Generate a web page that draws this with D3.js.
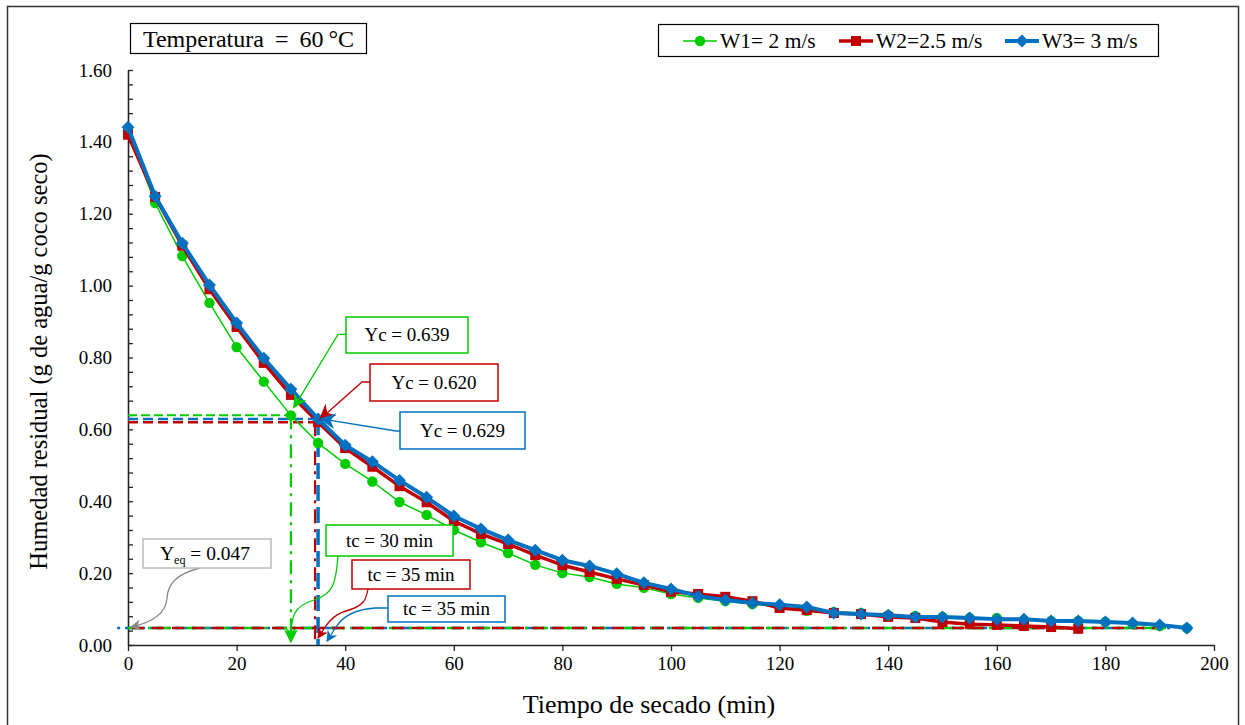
<!DOCTYPE html>
<html><head><meta charset="utf-8">
<script src="https://cdn.jsdelivr.net/npm/d3@7"></script>
<style>
body{margin:0;background:#fff;}
svg text{font-family:"Liberation Serif","DejaVu Serif",serif;fill:#000;}
</style></head>
<body><svg id="c" width="1245" height="725"></svg>
<script>
const time = [0,5,10,15,20,25,30,35,40,45,50,55,60,65,70,75,80,85,90,95,100,105,110,115,120,125,130,135,140,145,150,155,160,165,170,175,180,185,190,195];
const w1 = [1.43,1.23,1.082,0.952,0.829,0.733,0.639,0.562,0.504,0.455,0.398,0.362,0.320,0.286,0.256,0.223,0.200,0.189,0.170,0.159,0.142,0.131,0.122,0.114,0.106,0.095,0.092,0.089,0.083,0.081,0.078,0.075,0.075,0.069,0.067,0.067,0.064,0.058,0.053,0.047];
const w2 = [1.42,1.247,1.111,0.990,0.885,0.785,0.696,0.620,0.548,0.496,0.442,0.397,0.345,0.309,0.281,0.250,0.222,0.203,0.184,0.167,0.148,0.142,0.134,0.122,0.103,0.097,0.089,0.086,0.078,0.075,0.064,0.058,0.056,0.053,0.050,0.045];
const w3 = [1.441,1.249,1.118,1.002,0.896,0.798,0.712,0.629,0.556,0.510,0.458,0.411,0.359,0.323,0.292,0.264,0.236,0.220,0.198,0.173,0.156,0.136,0.125,0.117,0.112,0.106,0.089,0.086,0.083,0.078,0.078,0.075,0.072,0.072,0.067,0.067,0.064,0.061,0.056,0.047];
const seriesNames = ["W1= 2 m/s","W2=2.5 m/s","W3= 3 m/s"];
const seriesColors = ["#00cc00","#c00000","#0070c0"];
const xTicks = [0,20,40,60,80,100,120,140,160,180,200];
const yTicks = [0,0.2,0.4,0.6,0.8,1.0,1.2,1.4,1.6];
const yMinorTicks = [0.04,0.08,0.12,0.16,0.24,0.28,0.32,0.36,0.44,0.48,0.52,0.56,0.64,0.68,0.72,0.76,0.84,0.88,0.92,0.96,1.04,1.08,1.12,1.16,1.24,1.28,1.32,1.36,1.44,1.48,1.52,1.56];
const tc = [30,35,35];
const Yc = [0.639,0.620,0.629];
const Yeq = 0.047;
const titleParts = ["Temperatura = 60","°C"];
const xLabel = "Tiempo de secado (min)";
const yLabel = "Humedad residual (g de agua/g coco seco)";

const svg = d3.select("#c");
const x = d3.scaleLinear().domain([0,200]).range([128,1214]);
const y = d3.scaleLinear().domain([0,1.6]).range([645,70]);

// outer border
svg.append("rect").attr("x",7.5).attr("y",6.5).attr("width",1231).attr("height",730)
  .attr("fill","none").attr("stroke","#333").attr("stroke-width",1.5);

// arrow markers
const defs = svg.append("defs");
function mk(id,color,w,h){
  defs.append("marker").attr("id",id).attr("viewBox","0 0 10 10").attr("refX",9).attr("refY",5)
    .attr("markerWidth",w).attr("markerHeight",h).attr("orient","auto").attr("markerUnits","userSpaceOnUse")
    .append("path").attr("d","M0,0 L10,5 L0,10 L3,5 Z").attr("fill",color);
}
mk("ag","#00cc00",11,11); mk("ar","#c00000",11,11); mk("ab","#0070c0",11,11); mk("ay","#888",12,11);
mk("ag2","#00cc00",14,14); mk("ar2","#c00000",16,16); mk("ab2","#0070c0",18,16);

// axes
const yAxis = d3.axisLeft(y).tickValues(yTicks).tickFormat(d3.format(".2f")).tickSizeInner(-5).tickSizeOuter(0).tickPadding(16);
const gy = svg.append("g").attr("transform",`translate(${x(0)},0)`).call(yAxis);
const yMinor = d3.axisLeft(y).tickValues(yMinorTicks).tickFormat("").tickSizeInner(-5).tickSizeOuter(0);
const gym = svg.append("g").attr("transform",`translate(${x(0)},0)`).call(yMinor);
gym.select(".domain").remove();
const xAxis = d3.axisBottom(x).tickValues(xTicks).tickSizeInner(6).tickSizeOuter(0).tickPadding(6);
const gx = svg.append("g").attr("transform",`translate(0,${y(0)})`).call(xAxis);
[gy,gym,gx].forEach(g=>{
  g.selectAll(".domain").attr("stroke","#222").attr("stroke-width",1.6);
  g.selectAll(".tick line").attr("stroke","#222").attr("stroke-width",1.3);
  g.selectAll(".tick text").attr("font-family","Liberation Serif").attr("font-size",19).attr("fill","#000");
});

// axis labels
svg.append("text").attr("x",649).attr("y",713).attr("text-anchor","middle").attr("font-size",26).text(xLabel);
svg.append("text").attr("transform",`translate(47,${(y(0)+y(1.6))/2+4}) rotate(-90)`).attr("text-anchor","middle").attr("font-size",24.5).text(yLabel);

// reference lines (Yc horizontals, tc verticals, Yeq)
const refG = svg.append("g");
refG.append("line").attr("x1",x(0)).attr("x2",x(tc[0])+6).attr("y1",y(Yc[0])).attr("y2",y(Yc[0]))
  .attr("stroke",seriesColors[0]).attr("stroke-width",2).attr("stroke-dasharray","9,4");
refG.append("line").attr("x1",x(0)).attr("x2",x(tc[2])).attr("y1",y(Yc[2])).attr("y2",y(Yc[2]))
  .attr("stroke",seriesColors[2]).attr("stroke-width",2.5).attr("stroke-dasharray","10,5");
refG.append("line").attr("x1",x(0)).attr("x2",x(tc[1])).attr("y1",y(Yc[1])).attr("y2",y(Yc[1]))
  .attr("stroke",seriesColors[1]).attr("stroke-width",2.5).attr("stroke-dasharray","10,5");
// Yeq horizontals
refG.append("line").attr("x1",x(-2)).attr("x2",x(192)).attr("y1",y(Yeq)).attr("y2",y(Yeq))
  .attr("stroke",seriesColors[2]).attr("stroke-width",2.5).attr("stroke-dasharray","3,5,12,5");
refG.append("line").attr("x1",x(0)).attr("x2",x(192)).attr("y1",y(Yeq)).attr("y2",y(Yeq))
  .attr("stroke",seriesColors[0]).attr("stroke-width",2.5).attr("stroke-dasharray","14,6,3,6");
refG.append("line").attr("x1",x(0)+4).attr("x2",x(192)).attr("y1",y(Yeq)).attr("y2",y(Yeq))
  .attr("stroke",seriesColors[1]).attr("stroke-width",2.5).attr("stroke-dasharray","12,8");
// verticals
refG.append("line").attr("x1",x(tc[0])).attr("x2",x(tc[0])).attr("y1",y(Yc[0])).attr("y2",y(0)-3)
  .attr("stroke",seriesColors[0]).attr("stroke-width",2.2).attr("stroke-dasharray","14,6,3,6").attr("marker-end","url(#ag2)");
refG.append("line").attr("x1",x(tc[1])-3).attr("x2",x(tc[1])-3).attr("y1",y(Yc[1])).attr("y2",y(0))
  .attr("stroke",seriesColors[1]).attr("stroke-width",2.2).attr("stroke-dasharray","14,6,3,6");
refG.append("line").attr("x1",x(tc[2])).attr("x2",x(tc[2])).attr("y1",y(Yc[2])).attr("y2",y(0))
  .attr("stroke",seriesColors[2]).attr("stroke-width",3.5).attr("stroke-dasharray","16,6");

// series
const seriesData = [w1,w2,w3];
const widths = [1.5,3.5,4];
seriesData.forEach((vals,i)=>{
  const pts = vals.map((v,j)=>[time[j],v]);
  svg.append("path").datum(pts).attr("fill","none").attr("stroke",seriesColors[i]).attr("stroke-width",widths[i])
    .attr("stroke-linejoin","round").attr("d",d3.line().x(d=>x(d[0])).y(d=>y(d[1])));
  const g = svg.append("g");
  pts.forEach(d=>{
    if(i===0) g.append("circle").attr("cx",x(d[0])).attr("cy",y(d[1])).attr("r",5.2).attr("fill",seriesColors[0]);
    else if(i===1) g.append("rect").attr("x",x(d[0])-5).attr("y",y(d[1])-5).attr("width",10).attr("height",10).attr("fill",seriesColors[1]);
    else g.append("path").attr("transform",`translate(${x(d[0])},${y(d[1])})`).attr("d","M0,-6.5L6.5,0L0,6.5L-6.5,0Z").attr("fill",seriesColors[2]);
  });
});

// callouts
function box(x0,y0,w,h,color,txt){
  svg.append("rect").attr("x",x0).attr("y",y0).attr("width",w).attr("height",h).attr("fill","#fff").attr("stroke",color).attr("stroke-width",1.5);
  svg.append("text").attr("x",x0+w/2).attr("y",y0+h/2+6).attr("text-anchor","middle").attr("font-size",19).text(txt);
}
function leader(d,color,m,w){
  svg.append("path").attr("d",d).attr("fill","none").attr("stroke",color).attr("stroke-width",w||1.3).attr("marker-end",`url(#${m})`);
}
// Yc callouts
leader(`M346,${y(Yc[0])-81} L338,${y(Yc[0])-81} L${x(tc[0])+3},${y(Yc[0])-8}`,seriesColors[0],"ag2");
box(346,317,122,36,seriesColors[0],`Yc = ${Yc[0].toFixed(3)}`);
leader(`M370,382 L362,382 L${x(tc[1])+2},${y(Yc[1])-3}`,seriesColors[1],"ar2");
box(370,364,128,37,seriesColors[1],`Yc = ${Yc[1].toFixed(3)}`);
leader(`M400,431 L396,431 L${x(tc[2])+3},${y(Yc[2])}`,seriesColors[2],"ab2");
box(400,412,125,37,seriesColors[2],`Yc = ${Yc[2].toFixed(3)}`);

// tc callouts
leader(`M338,556 C336,582 334,594 314,600 C294,606 291,616 ${x(tc[0])},${y(0)-7}`,seriesColors[0],"ag");
box(326,525,127,31,seriesColors[0],`tc = ${tc[0]} min`);
leader(`M368,589 C366,600 364,606 346,611 C332,615 326,625 ${x(tc[1])},${y(0)-7}`,seriesColors[1],"ar");
box(352,560,118,29,seriesColors[1],`tc = ${tc[1]} min`);
leader(`M388,608 L375,608 C360,609 345,613 336,627 L${x(tc[2])+9},${y(0)-4}`,seriesColors[2],"ab");
box(388,596,117,26,seriesColors[2],`tc = ${tc[2]} min`);

// Yeq callout
leader(`M200,568 C176,574 168,584 167,598 C166,614 150,623 ${x(0)+3},${y(Yeq)-1}`,"#888","ay");
svg.append("rect").attr("x",143).attr("y",539).attr("width",128).attr("height",29).attr("fill","#fff").attr("stroke","#bbb").attr("stroke-width",1.5);
const ty = svg.append("text").attr("x",205).attr("y",560).attr("text-anchor","middle").attr("font-size",19.5);
ty.append("tspan").text("Y");
ty.append("tspan").attr("font-size",12).attr("dy",4).text("eq");
ty.append("tspan").attr("dy",-4).text(` = ${Yeq.toFixed(3)}`);

// title box
svg.append("rect").attr("x",130.5).attr("y",23.5).attr("width",236).attr("height",30).attr("fill","#fff").attr("stroke","#000").attr("stroke-width",1.2);
const tt = svg.append("text").attr("x",248.5).attr("y",47).attr("text-anchor","middle").attr("font-size",24);
tt.append("tspan").attr("word-spacing",5).text(titleParts[0]);
tt.append("tspan").attr("dx",5).text(titleParts[1]);

// legend
svg.append("rect").attr("x",658.5).attr("y",24.5).attr("width",500).attr("height",32).attr("fill","#fff").attr("stroke","#000").attr("stroke-width",1.2);
const legX = [683,839,1005];
seriesNames.forEach((n,i)=>{
  const lx = legX[i], ly = 41;
  svg.append("line").attr("x1",lx).attr("x2",lx+34).attr("y1",ly).attr("y2",ly).attr("stroke",seriesColors[i]).attr("stroke-width",widths[i]);
  const cx = lx+17;
  if(i===0) svg.append("circle").attr("cx",cx).attr("cy",ly).attr("r",5.2).attr("fill",seriesColors[0]);
  else if(i===1) svg.append("rect").attr("x",cx-5).attr("y",ly-5).attr("width",10).attr("height",10).attr("fill",seriesColors[1]);
  else svg.append("path").attr("transform",`translate(${cx},${ly})`).attr("d","M0,-6.5L6.5,0L0,6.5L-6.5,0Z").attr("fill",seriesColors[2]);
  svg.append("text").attr("x",lx+37).attr("y",ly+7).attr("font-size",21.5).text(n);
});
</script></body></html>
